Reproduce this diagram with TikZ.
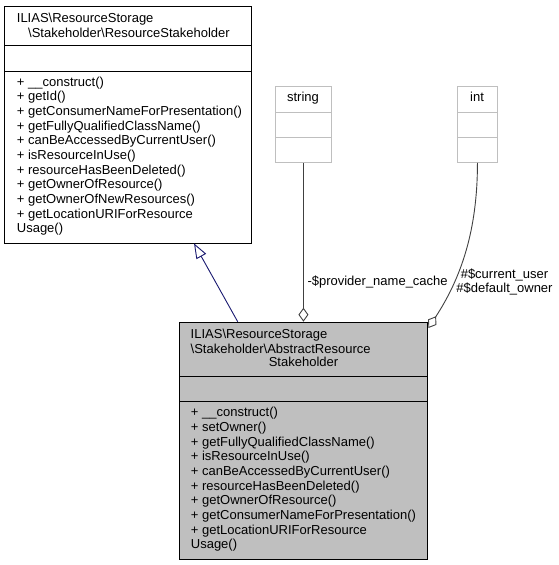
\documentclass[tikz,border=0pt]{standalone}
\usepackage{fontspec}
\setmainfont{Liberation Sans}
\usepackage{tikz}
\usetikzlibrary{arrows.meta,calc}

\definecolor{grey75}{HTML}{BFBFBF}
\definecolor{grey25}{HTML}{404040}
\definecolor{midnightblue}{HTML}{191970}

\tikzset{
  classbox/.style={draw=black, line width=0.9pt, inner sep=0pt, anchor=north west},
  typebox/.style={draw=grey75, fill=white, line width=0.9pt, inner sep=0pt, anchor=north west},
  txt/.style={inner sep=0pt, anchor=base west, font=\fontsize{13}{14.67}\selectfont},
  ctxt/.style={txt, anchor=base},
  inherit/.style={draw=midnightblue, line width=0.9pt, -{Triangle[open, length=15pt, width=11pt]}},
  member/.style={draw=grey25, line width=0.9pt, -{Diamond[fill=white, length=14pt, width=10pt]}}
}

\begin{document}
\begin{tikzpicture}[x=1pt,y=1pt]
\useasboundingbox (0,0) rectangle (559,-565);
\node [classbox, minimum width=246.7pt, minimum height=236.5pt] (stakeholder) at (4.3,-6) {};
\draw ([yshift=-39pt]stakeholder.north west) -- ([yshift=-39pt]stakeholder.north east);
\draw ([yshift=-65pt]stakeholder.north west) -- ([yshift=-65pt]stakeholder.north east);
\node [txt] (sh1) at (16.7,-22.7) {ILIAS\textbackslash ResourceStorage};
\node [ctxt] (sh2) at (129,-37.3) {\textbackslash Stakeholder\textbackslash ResourceStakeholder};
\node [txt] (sm1) at (16.7,-86) {+ \_\_construct()};
\node [txt] (sm2) at (16.7,-100.67) {+ getId()};
\node [txt] (sm3) at (16.7,-115.33) {+ getConsumerNameForPresentation()};
\node [txt] (sm4) at (16.7,-130) {+ getFullyQualifiedClassName()};
\node [txt] (sm5) at (16.7,-144.67) {+ canBeAccessedByCurrentUser()};
\node [txt] (sm6) at (16.7,-159.33) {+ isResourceInUse()};
\node [txt] (sm7) at (16.7,-174) {+ resourceHasBeenDeleted()};
\node [txt] (sm8) at (16.7,-188.67) {+ getOwnerOfResource()};
\node [txt] (sm9) at (16.7,-203.33) {+ getOwnerOfNewResources()};
\node [txt] (sm10) at (16.7,-218) {+ getLocationURIForResource};
\node [txt] (sm11) at (16.7,-232.67) {Usage()};
\node [classbox, fill=grey75, minimum width=247.5pt, minimum height=237.5pt] (abstract) at (179.3,-321.7) {};
\draw ([yshift=-54.8pt]abstract.north west) -- ([yshift=-54.8pt]abstract.north east);
\draw ([yshift=-79.8pt]abstract.north west) -- ([yshift=-79.8pt]abstract.north east);
\node [txt] (ah1) at (190.5,-338.3) {ILIAS\textbackslash ResourceStorage};
\node [txt] (ah2) at (190.5,-353) {\textbackslash Stakeholder\textbackslash AbstractResource};
\node [ctxt] (ah3) at (303.5,-366.8) {Stakeholder};
\node [txt] (am1) at (190.7,-416.7) {+ \_\_construct()};
\node [txt] (am2) at (190.7,-431.37) {+ setOwner()};
\node [txt] (am3) at (190.7,-446.03) {+ getFullyQualifiedClassName()};
\node [txt] (am4) at (190.7,-460.7) {+ isResourceInUse()};
\node [txt] (am5) at (190.7,-475.37) {+ canBeAccessedByCurrentUser()};
\node [txt] (am6) at (190.7,-490.03) {+ resourceHasBeenDeleted()};
\node [txt] (am7) at (190.7,-504.7) {+ getOwnerOfResource()};
\node [txt] (am8) at (190.7,-519.37) {+ getConsumerNameForPresentation()};
\node [txt] (am9) at (190.7,-534.03) {+ getLocationURIForResource};
\node [txt] (am10) at (190.7,-548.7) {Usage()};
\node [typebox, minimum width=56pt, minimum height=76pt] (string) at (275,-86) {};
\draw [grey75, line width=0.9pt] ([yshift=-26pt]string.north west) -- ([yshift=-26pt]string.north east);
\draw [grey75, line width=0.9pt] ([yshift=-51pt]string.north west) -- ([yshift=-51pt]string.north east);
\node [ctxt] (stringname) at (303,-101.5) {string};
\node [typebox, minimum width=39.4pt, minimum height=76pt] (int) at (457.3,-86) {};
\draw [grey75, line width=0.9pt] ([yshift=-26pt]int.north west) -- ([yshift=-26pt]int.north east);
\draw [grey75, line width=0.9pt] ([yshift=-51pt]int.north west) -- ([yshift=-51pt]int.north east);
\node [ctxt] (intname) at (477,-101.5) {int};
\draw [inherit] ($(abstract.north west)+(58.4,0)$) -- ($(stakeholder.south west)+(189.7,0)$);
\draw [member] (string.south) -- (string.south |- abstract.north);
\node [txt] (cachelabel) at (307.3,-285.7) {-\$provider\_name\_cache};
\draw [member] (int.south) .. controls ($(int.south)+(0,-68)$) and (461,-278) .. ($(abstract.north east)+(0.7,-6.3)$);
\node [ctxt] (userlabel) at (504.5,-278.3) {\#\$current\_user};
\node [ctxt] (ownerlabel) at (504.5,-292.3) {\#\$default\_owner};
\end{tikzpicture}
\end{document}
